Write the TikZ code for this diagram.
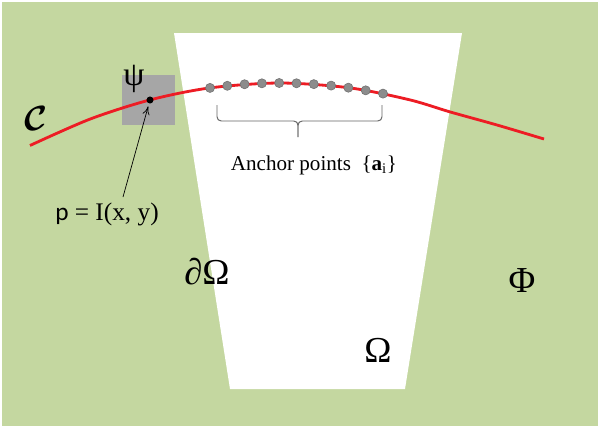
\documentclass[tikz,border=0pt]{standalone}
\usepackage{fontspec}
\setmainfont{Liberation Serif}
\newfontfamily\sanspoint{Carlito}
\usetikzlibrary{arrows.meta}
\definecolor{fieldgreen}{RGB}{196,215,160}
\definecolor{curvered}{RGB}{237,28,36}
\definecolor{patchgray}{RGB}{166,166,166}
\definecolor{anchorgray}{RGB}{140,140,140}
\definecolor{bracegray}{RGB}{100,100,100}
\tikzset{
  symb/.style={inner sep=0pt, font=\fontsize{26}{26}\selectfont},
  anchorpt/.style={circle, fill=anchorgray, draw=anchorgray!80!black, line width=0.4pt, minimum size=6.5pt, inner sep=0pt},
}
\begin{document}
\begin{tikzpicture}[x=0.025cm, y=-0.025cm, >={To[length=6pt,width=5pt]}]
\useasboundingbox (0,0) rectangle (600,428);
% regions
\fill[fieldgreen] (2,2) rectangle (598,426);
\fill[white] (174,33) -- (462,33) -- (405,389) -- (230,389) -- cycle;
\fill[patchgray] (122,75) rectangle (175,125);
\node[inner sep=0pt, font=\fontsize{24}{24}\selectfont] (psi) at (134,79) {ψ};

% curve C
\draw[curvered, line width=2pt] plot[smooth] coordinates {(30,145.5) (90,119.1) (150,99.9) (210,87.9) (280,83) (350,87.9) (410,99.9) (450,111.9) (497,125) (544,139)};
\node[inner sep=0pt, font=\fontsize{32}{32}\selectfont\boldmath] (curvename) at (36,118) {$\mathcal{C}$};

% anchor points
\foreach \i in {0,...,10}{
  \pgfmathsetmacro\ax{210+17.3*\i}
  \pgfmathsetmacro\ay{83+0.1*((\ax-280)/10)^2}
  \node[anchorpt] (a\i) at (\ax,\ay) {};
}
\draw[bracegray, line width=0.7pt, rounded corners=3] (217,105) |- (298,121) -- (298,137);
\draw[bracegray, line width=0.7pt, rounded corners=3] (382,105) |- (298,121) -- (298,137);
\node[inner sep=0pt, font=\fontsize{15}{15}\selectfont] (anchortext) at (314,165) {Anchor points~~\{\textbf{a}\textsubscript{i}\}};

% point p
\node[circle, fill=black, minimum size=5pt, inner sep=0pt] (pdot) at (150,100) {};
\node[inner sep=0pt, font=\fontsize{18}{18}\selectfont] (plabel) at (107,214) {{\sanspoint p} = I(x, y)};
\coordinate (ptail) at (123,197);
\draw[->, line width=0.5pt, shorten >=2pt] (ptail) -- (pdot);

% region names
\node[symb] (boundary) at (207,272) {∂Ω};
\node[symb] (omega) at (378,350) {Ω};
\node[symb] (phi) at (522,281) {Φ};
\end{tikzpicture}
\end{document}
